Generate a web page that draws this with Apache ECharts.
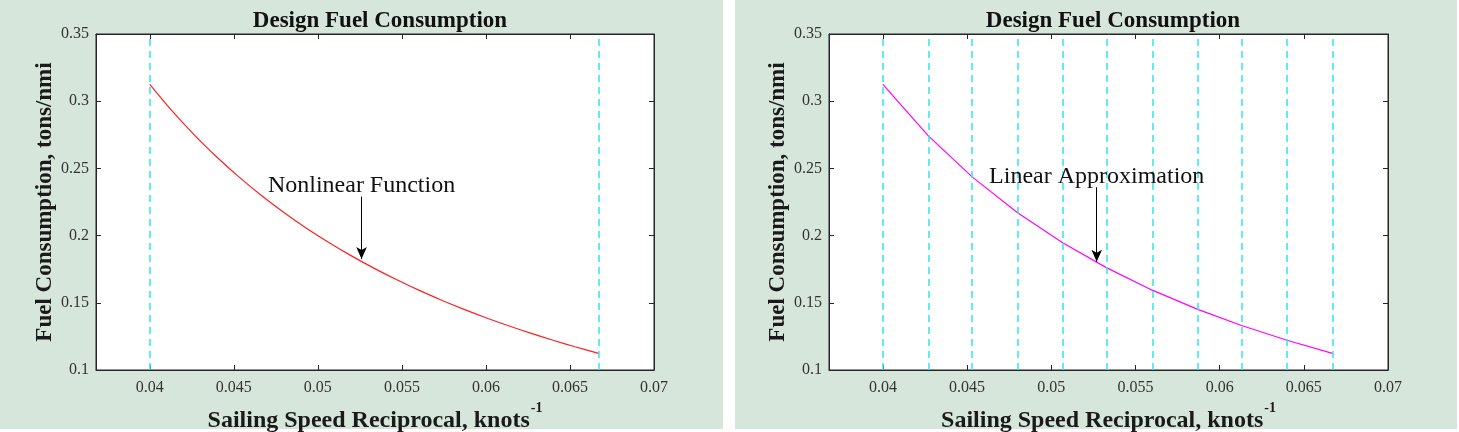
<!DOCTYPE html>
<html>
<head>
<meta charset="utf-8">
<script src="https://cdn.jsdelivr.net/npm/echarts@6/dist/echarts.min.js"></script>
<style>
html,body{margin:0;padding:0;background:#fff;}
#chart{width:1459px;height:432px;}
</style>
</head>
<body>
<div id="chart"></div>
<script>
// ---- data ----
const titleText = 'Design Fuel Consumption';
const xTicks = [0.04, 0.045, 0.05, 0.055, 0.06, 0.065, 0.07];
const yTicks = [0.1, 0.15, 0.2, 0.25, 0.3, 0.35];

// left panel: nonlinear curve
const nonlinX = [0.0400, 0.0413, 0.0427, 0.0440, 0.0453, 0.0467, 0.0480, 0.0493, 0.0507, 0.0520, 0.0533,
                 0.0547, 0.0560, 0.0573, 0.0587, 0.0600, 0.0613, 0.0627, 0.0640, 0.0653, 0.0667];
const nonlinY = [0.3125, 0.2931, 0.2742, 0.2583, 0.2437, 0.2293, 0.2170, 0.2057, 0.1945, 0.1849, 0.1760,
                 0.1671, 0.1594, 0.1523, 0.1451, 0.1389, 0.1331, 0.1272, 0.1221, 0.1173, 0.1124];
const nonlinBounds = [0.04, 0.0667];

// right panel: piecewise linear approximation
const linX = [0.0400, 0.0427, 0.0453, 0.0480, 0.0507, 0.0533, 0.0560, 0.0587, 0.0613, 0.0640, 0.0667];
const linY = [0.3125, 0.2742, 0.2437, 0.2170, 0.1945, 0.1760, 0.1594, 0.1451, 0.1331, 0.1221, 0.1124];

// annotations: [label, x, arrow top y, arrow tip y]
const noteLeft = ['Nonlinear Function', 0.0526, 0.229, 0.1825];
const noteRight = ['Linear Approximation', 0.0527, 0.236, 0.1805];

const xMin = 0.0368, xMax = 0.07, yMin = 0.1, yMax = 0.35;

// ---- chart ----
const serif = '"Liberation Serif","DejaVu Serif",serif';
const axisCol = '#262626';
const panelBg = '#d6e6da';

const grids = [
  {left: 96, top: 34, width: 558, height: 336},
  {left: 829, top: 34, width: 559, height: 336}
];

function zip(xs, ys){ return xs.map((x,i)=>[x, ys[i]]); }

const xAxes = [], yAxes = [];
grids.forEach((g, gi) => {
  xAxes.push({
    type:'value', gridIndex: gi, min: xMin, max: xMax, position:'bottom',
    name: '{m|Sailing Speed Reciprocal, knots}{s|-1}',
    nameLocation:'middle', nameGap: 28,
    nameTextStyle:{rich:{
      m:{fontFamily:serif, fontWeight:'bold', fontSize:24, color:'#1a1a1a', verticalAlign:'bottom', lineHeight:26},
      s:{fontFamily:serif, fontWeight:'bold', fontSize:14, color:'#1a1a1a', verticalAlign:'top', lineHeight:32, padding:[0,0,14,1]}
    }},
    axisLine:{show:true, lineStyle:{color:axisCol, width:1}},
    axisTick:{show:true, inside:true, length:5, customValues:xTicks, lineStyle:{color:axisCol}},
    axisLabel:{show:true, customValues:xTicks, fontFamily:serif, fontSize:16, color:'#333', margin:10},
    splitLine:{show:false}
  });
  xAxes.push({
    type:'value', gridIndex: gi, min: xMin, max: xMax, position:'top',
    axisLine:{show:true, lineStyle:{color:axisCol, width:1}},
    axisTick:{show:true, inside:true, length:5, customValues:xTicks, lineStyle:{color:axisCol}},
    axisLabel:{show:false}, splitLine:{show:false}
  });
  yAxes.push({
    type:'value', gridIndex: gi, min: yMin, max: yMax, position:'left',
    name:'Fuel Consumption, tons/nmi', nameLocation:'middle', nameGap: 39, nameRotate: 90,
    nameTextStyle:{fontFamily:serif, fontWeight:'bold', fontSize:23, color:'#1a1a1a'},
    axisLine:{show:true, lineStyle:{color:axisCol, width:1}},
    axisTick:{show:true, inside:true, length:5, customValues:yTicks, lineStyle:{color:axisCol}},
    axisLabel:{show:true, customValues:yTicks, fontFamily:serif, fontSize:16, color:'#333', margin:7,
               formatter: v => String(+(+v).toFixed(2))},
    splitLine:{show:false}
  });
  yAxes.push({
    type:'value', gridIndex: gi, min: yMin, max: yMax, position:'right',
    axisLine:{show:true, lineStyle:{color:axisCol, width:1}},
    axisTick:{show:true, inside:true, length:5, customValues:yTicks, lineStyle:{color:axisCol}},
    axisLabel:{show:false}, splitLine:{show:false}
  });
});

function dashLines(xs){
  return {
    silent:true, symbol:['none','none'], animation:false,
    label:{show:false},
    lineStyle:{color:'#2fe4f2', type:[7,5], width:1.5},
    data: xs.map(x => [{coord:[x, yMin]}, {coord:[x, yMax]}])
  };
}
function arrowNote(n){
  return {
    silent:true, symbol:['none','arrow'], symbolSize:[8,12], animation:false,
    lineStyle:{color:'#000', type:'solid', width:1},
    label:{show:true, position:'start', formatter: n[0], fontFamily:serif, fontSize:24, color:'#111', distance:-1},
    data:[[{coord:[n[1], n[2]]}, {coord:[n[1], n[3]]}]]
  };
}

const option = {
  animation:false,
  backgroundColor:'#ffffff',
  graphic:[
    {type:'rect', shape:{x:0, y:0, width:723, height:429}, style:{fill:panelBg}, z:-10},
    {type:'rect', shape:{x:735, y:0, width:722, height:429}, style:{fill:panelBg}, z:-10}
  ],
  title:[
    {text:titleText, left: 96+279, top: 5, textAlign:'center',
     textStyle:{fontFamily:serif, fontWeight:'bold', fontSize:23, color:'#111'}},
    {text:titleText, left: 829+279, top: 5, textAlign:'center',
     textStyle:{fontFamily:serif, fontWeight:'bold', fontSize:23, color:'#111'}}
  ],
  grid: grids.map(g => Object.assign({show:true, backgroundColor:'#fff', borderColor:axisCol, borderWidth:1,
                                      outerBoundsMode:'none', containLabel:false}, g)),
  xAxis: xAxes,
  yAxis: yAxes,
  series:[
    {type:'line', xAxisIndex:0, yAxisIndex:0, data: zip(nonlinX, nonlinY), showSymbol:false, smooth:0.3,
     lineStyle:{color:'#ff2020', width:1.2}, markLine: dashLines(nonlinBounds), z:3},
    {type:'line', xAxisIndex:0, yAxisIndex:0, data: [], showSymbol:false, markLine: arrowNote(noteLeft), z:4},
    {type:'line', xAxisIndex:2, yAxisIndex:2, data: zip(linX, linY), showSymbol:false,
     lineStyle:{color:'#ff00ff', width:1.2}, markLine: dashLines(linX), z:3},
    {type:'line', xAxisIndex:2, yAxisIndex:2, data: [], showSymbol:false, markLine: arrowNote(noteRight), z:4}
  ]
};

const chart = echarts.init(document.getElementById('chart'), null, {renderer:'canvas'});
chart.setOption(option);
</script>
</body>
</html>
